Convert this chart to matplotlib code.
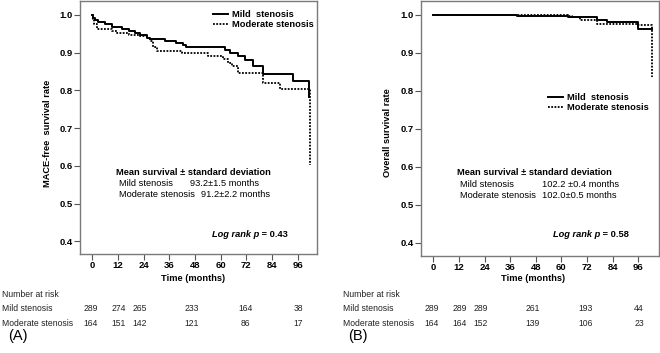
import matplotlib
matplotlib.use('Agg')
import matplotlib.pyplot as plt
from matplotlib.transforms import blended_transform_factory

plt.rcParams['font.family'] = ['Liberation Sans', 'DejaVu Sans']

# Panel A: MACE-free survival (months, survival rate)
a_mild_t = [0, 0.5, 1.2, 2.8, 5.9, 9.0, 13.7, 17, 20, 22.5, 25.4, 27, 34, 39, 42.6, 44,
            62, 64.3, 68.2, 71.3, 75.2, 79.9, 93.9, 101.3, 101.4]
a_mild_s = [1.0, 0.993, 0.987, 0.981, 0.975, 0.969, 0.962, 0.957, 0.952, 0.946, 0.94, 0.936,
            0.931, 0.927, 0.92, 0.914, 0.908, 0.90, 0.892, 0.88, 0.865, 0.843, 0.826, 0.80, 0.782]
a_mod_t = [0, 0.5, 0.9, 2.0, 9.0, 11.4, 17, 22, 25.4, 27, 28.5, 30, 41.8, 54.2, 61.2, 63.6,
           65.1, 68.2, 79.9, 87.7, 101.8]
a_mod_s = [1.0, 0.99, 0.975, 0.964, 0.958, 0.952, 0.948, 0.944, 0.938, 0.93, 0.915, 0.905,
           0.898, 0.892, 0.883, 0.874, 0.865, 0.845, 0.821, 0.804, 0.603]

# Panel B: overall survival
b_mild_t = [0, 39, 63.2, 76.5, 81.2, 96, 102.3]
b_mild_s = [1.0, 0.997, 0.993, 0.987, 0.98, 0.962, 0.962]
b_mod_t = [0, 63.2, 64.8, 68.5, 76.5, 96, 102.3]
b_mod_s = [1.0, 0.997, 0.993, 0.986, 0.976, 0.973, 0.835]

# number at risk
a_risk_mild = [289, 274, 265, 233, 164, 38]
a_risk_mod = [164, 151, 142, 121, 86, 17]
b_risk_mild = [289, 289, 289, 261, 193, 44]
b_risk_mod = [164, 164, 152, 139, 106, 23]

a_mean = ['93.2\u00b11.5 months', '91.2\u00b12.2 months']
b_mean = ['102.2 \u00b10.4 months', '102.0\u00b10.5 months']
a_p = '0.43'
b_p = '0.58'

x_ticks = [0, 12, 24, 36, 48, 60, 72, 84, 96]
y_ticks = [0.4, 0.5, 0.6, 0.7, 0.8, 0.9, 1.0]
risk_col_x = [-0.8, 12.3, 22.2, 46.6, 71.5, 96.3]

FS = 6.7
TFS = 6.2
SPINE = '#7a7a7a'

fig = plt.figure(figsize=(6.6, 3.53), dpi=100)


def draw_panel(ax, mild_t, mild_s, mod_t, mod_s, ylabel, means, pval, risk_mild, risk_mod,
               xlim, ylim, leg_anchor, mean_y, p_xy, ylab_xy, xlab_xy, val_x, row_x, letter, letter_x):
    ax.step(mild_t, mild_s, where='post', color='black', lw=1.4, label='Mild  stenosis')
    ax.step(mod_t, mod_s, where='post', color='black', lw=1.3, linestyle=(0, (1, 0.8)),
            label='Moderate stenosis')
    ax.set_xlim(*xlim)
    ax.set_ylim(*ylim)
    ax.set_xticks(x_ticks)
    ax.set_yticks(y_ticks)
    ax.set_yticklabels(['%.1f' % v for v in y_ticks])
    ax.tick_params(direction='out', length=4, width=0.8, color='#555555', pad=1.2,
                   labelsize=6.8)
    for lab in ax.get_xticklabels() + ax.get_yticklabels():
        lab.set_fontweight('bold')
    for sp in ax.spines.values():
        sp.set_color(SPINE)
        sp.set_linewidth(1.0)
    ax.set_ylabel(ylabel, fontsize=FS, fontweight='bold', va='center')
    ax.yaxis.set_label_coords(*ylab_xy)
    ax.set_xlabel('Time (months)', fontsize=FS, fontweight='bold', va='center')
    ax.xaxis.set_label_coords(*xlab_xy)

    ax.legend(loc='upper left', bbox_to_anchor=leg_anchor, frameon=False, borderpad=0,
              borderaxespad=0, handlelength=1.6, handletextpad=0.45, labelspacing=0.15,
              prop={'weight': 'bold', 'size': FS})

    ax.text(mean_y[0], mean_y[1], 'Mean survival \u00b1 standard deviation', transform=ax.transAxes,
            fontsize=FS, fontweight='bold', va='center', ha='left')
    ax.text(mean_y[0] + 0.013, mean_y[1] - 0.046, 'Mild stenosis', transform=ax.transAxes,
            fontsize=FS, va='center')
    ax.text(val_x[0], mean_y[1] - 0.046, means[0], transform=ax.transAxes, fontsize=FS, va='center')
    ax.text(mean_y[0] + 0.013, mean_y[1] - 0.088, 'Moderate stenosis', transform=ax.transAxes,
            fontsize=FS, va='center')
    ax.text(val_x[1], mean_y[1] - 0.088, means[1], transform=ax.transAxes, fontsize=FS, va='center')

    t1 = ax.text(p_xy[0], p_xy[1], 'Log rank p', transform=ax.transAxes, fontsize=FS,
                 fontweight='bold', fontstyle='italic', va='baseline')
    ax.annotate(' = ' + pval, xy=(1, 0), xycoords=t1, fontsize=FS, fontweight='bold',
                va='bottom')

    # number at risk table
    tr = blended_transform_factory(ax.transData, fig.transFigure)
    fig.text(row_x, 1 - 294.5 / 353, 'Number at risk', fontsize=TFS, va='center', color='#222222')
    fig.text(row_x, 1 - 308.8 / 353, 'Mild stenosis', fontsize=TFS, va='center', color='#222222')
    fig.text(row_x, 1 - 323.7 / 353, 'Moderate stenosis', fontsize=TFS, va='center', color='#222222')
    for x, n1, n2 in zip(risk_col_x, risk_mild, risk_mod):
        ax.text(x, 1 - 308.8 / 353, str(n1), transform=tr, fontsize=TFS, ha='center',
                va='center', color='#222222', clip_on=False)
        ax.text(x, 1 - 323.7 / 353, str(n2), transform=tr, fontsize=TFS, ha='center',
                va='center', color='#222222', clip_on=False)
    fig.text(letter_x, 1 - 336 / 353, letter, fontsize=10.5, va='center')


ax_a = fig.add_axes([80 / 660, 1 - 254 / 353, 237 / 660, 253 / 353])
draw_panel(ax_a, a_mild_t, a_mild_s, a_mod_t, a_mod_s, 'MACE-free  survival rate', a_mean, a_p,
           a_risk_mild, a_risk_mod, (-5.75, 105), (0.3667, 1.037), (0.561, 0.965),
           (0.152, 0.323), (0.557, 0.066), (-0.139, 0.476), (0.475, -0.098),
           (0.464, 0.51), 2 / 660, '(A)', 8 / 660)

ax_b = fig.add_axes([421 / 660, 1 - 256 / 353, 238 / 660, 255 / 353])
draw_panel(ax_b, b_mild_t, b_mild_s, b_mod_t, b_mod_s, 'Overall survival rate', b_mean, b_p,
           b_risk_mild, b_risk_mod, (-5.76, 105.7), (0.365, 1.036), (0.534, 0.64),
           (0.15, 0.327), (0.553, 0.074), (-0.139, 0.484), (0.472, -0.09),
           (0.508, 0.508), 343 / 660, '(B)', 348 / 660)

fig.savefig('out.png', dpi=100)
